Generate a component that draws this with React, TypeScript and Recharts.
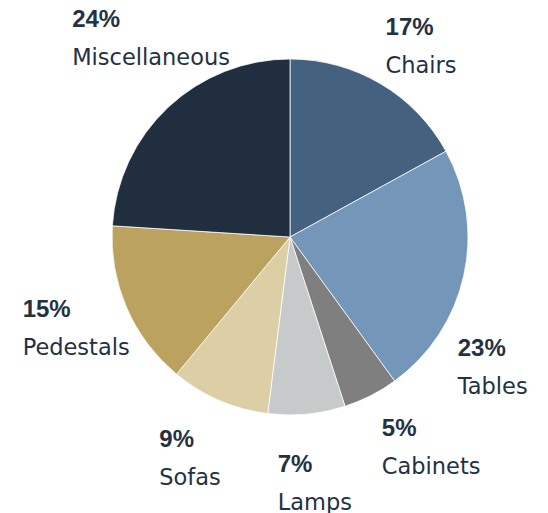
import { PieChart, Pie, Cell } from "recharts";

const CATEGORIES = ["Chairs", "Tables", "Cabinets", "Lamps", "Sofas", "Pedestals", "Miscellaneous"];
const SHARES = [17, 23, 5, 7, 9, 15, 24];

const COLORS = ["#44627f", "#7496b8", "#7f7f7f", "#c7cacb", "#dccfa6", "#bba35f", "#212e3f"];

// label nudges from the slice's outer edge point: [left x offset, percent baseline offset]
const LABEL_NUDGE: [number, number][] = [
  [5, -49],
  [-6, 80],
  [11, 40],
  [-29, 58],
  [-60, 47],
  [-104, 9],
  [-96, -80],
];

const TEXT = "#243142";
const BOLD_FONT = "'Liberation Sans', Arial, sans-serif";
const FONT = "'DejaVu Sans', sans-serif";
const RAD = Math.PI / 180;

const data = CATEGORIES.map((name, i) => ({ name, value: SHARES[i] }));

function renderLabel(props: any) {
  const { cx, cy, midAngle, outerRadius, index, value, name } = props;
  const ex = cx + outerRadius * Math.cos(-midAngle * RAD);
  const ey = cy + outerRadius * Math.sin(-midAngle * RAD);
  const [dx, dy] = LABEL_NUDGE[index];
  const x = ex + dx;
  const y = ey + dy;
  return (
    <g>
      <text x={x} y={y} fill={TEXT} fontFamily={BOLD_FONT} fontSize={24} fontWeight="bold" textAnchor="start">
        {value}%
      </text>
      <text x={x} y={y + 38} fill={TEXT} fontFamily={FONT} fontSize={22.5} textAnchor="start">
        {name}
      </text>
    </g>
  );
}

export default function App() {
  return (
    <div style={{ position: "absolute", left: 0, top: 0, width: 548, height: 513, background: "#fff" }}>
      <PieChart width={548} height={513} margin={{ top: 0, right: 0, bottom: 0, left: 0 }}>
        <Pie
          data={data}
          dataKey="value"
          nameKey="name"
          cx={290}
          cy={237}
          outerRadius={178}
          startAngle={90}
          endAngle={-270}
          stroke="#ffffff"
          strokeWidth={0.75}
          label={renderLabel}
          labelLine={false}
          isAnimationActive={false}
        >
          {data.map((d, i) => (
            <Cell key={d.name} fill={COLORS[i]} />
          ))}
        </Pie>
      </PieChart>
    </div>
  );
}
